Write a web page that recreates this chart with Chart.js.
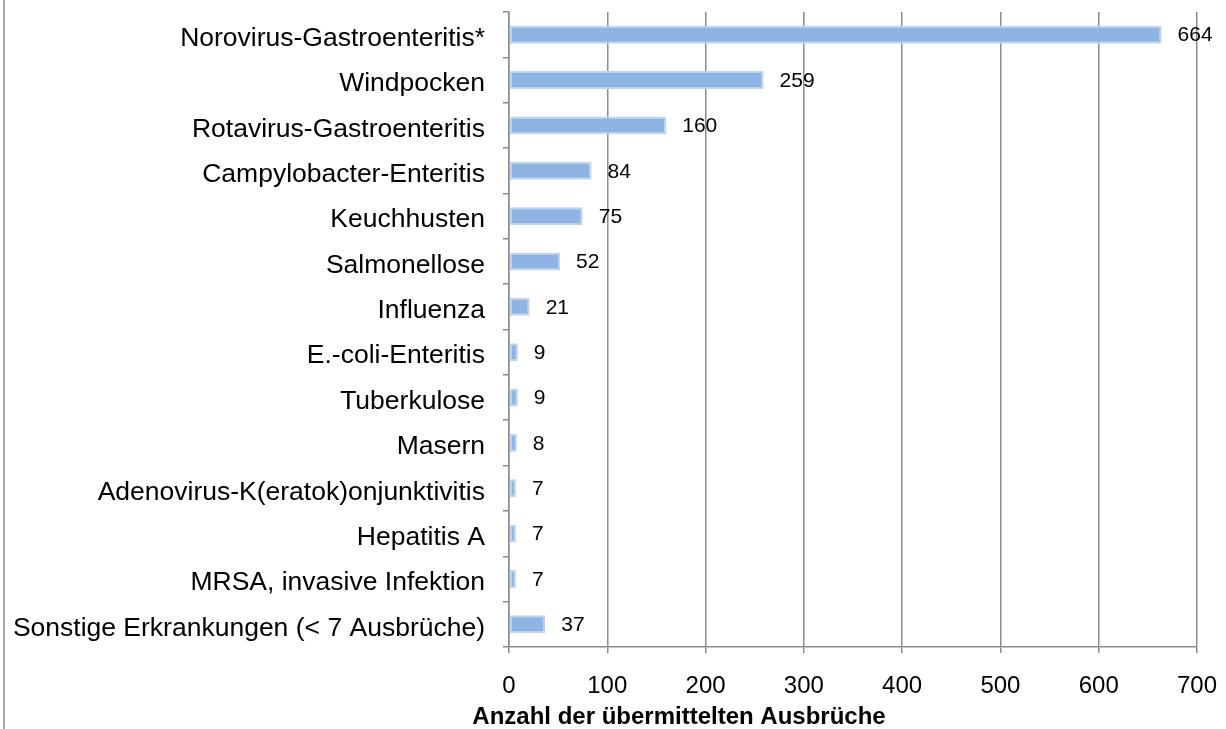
<!DOCTYPE html>
<html>
<head>
<meta charset="utf-8">
<script src="https://cdn.jsdelivr.net/npm/chart.js@4/dist/chart.umd.min.js"></script>
<style>
  html, body { margin: 0; padding: 0; background: #fff; }
</style>
</head>
<body>
<canvas id="chart" width="1226" height="729"></canvas>
<script>
// --- data ---
const categories = [
    'Norovirus-Gastroenteritis*',
    'Windpocken',
    'Rotavirus-Gastroenteritis',
    'Campylobacter-Enteritis',
    'Keuchhusten',
    'Salmonellose',
    'Influenza',
    'E.-coli-Enteritis',
    'Tuberkulose',
    'Masern',
    'Adenovirus-K(eratok)onjunktivitis',
    'Hepatitis A',
    'MRSA, invasive Infektion',
    'Sonstige Erkrankungen (< 7 Ausbrüche)'
];
const outbreaks = [664, 259, 160, 84, 75, 52, 21, 9, 9, 8, 7, 7, 7, 37];
const xTicks = [0, 100, 200, 300, 400, 500, 600, 700];
const xTitle = 'Anzahl der übermittelten Ausbrüche';

const FONT = '"Liberation Sans", Arial, sans-serif';

// value labels next to bar ends
const valueLabels = {
    id: 'valueLabels',
    afterDatasetsDraw(chart) {
        const ctx = chart.ctx;
        const meta = chart.getDatasetMeta(0);
        ctx.save();
        ctx.font = '21px ' + FONT;
        ctx.fillStyle = '#000';
        ctx.textAlign = 'left';
        ctx.textBaseline = 'middle';
        meta.data.forEach((bar, i) => {
            ctx.fillText(String(outbreaks[i]), bar.x + 16, bar.y + 1);
        });
        ctx.restore();
    }
};

// left frame line + axis title (title sits left of the plot centre in the original)
const extras = {
    id: 'extras',
    beforeDraw(chart) {
        const ctx = chart.ctx;
        ctx.save();
        ctx.strokeStyle = '#8c8c8c';
        ctx.lineWidth = 1.5;
        ctx.beginPath();
        ctx.moveTo(4, 0);
        ctx.lineTo(4, chart.height);
        ctx.stroke();
        ctx.restore();
    },
    afterDraw(chart) {
        const ctx = chart.ctx;
        ctx.save();
        ctx.font = 'bold 24px ' + FONT;
        ctx.fillStyle = '#000';
        ctx.textAlign = 'center';
        ctx.textBaseline = 'alphabetic';
        ctx.fillText(xTitle, 679, 724);
        ctx.restore();
    }
};

new Chart(document.getElementById('chart'), {
    type: 'bar',
    data: {
        labels: categories,
        datasets: [{
            data: outbreaks,
            backgroundColor: '#8eb4e3',
            borderColor: '#bfd3ec',
            borderWidth: 2,
            borderSkipped: false,
            categoryPercentage: 1,
            barPercentage: 0.395
        }]
    },
    options: {
        indexAxis: 'y',
        responsive: false,
        animation: false,
        layout: { padding: { top: 12, right: 29, left: 0, bottom: 0 } },
        plugins: {
            legend: { display: false },
            tooltip: { enabled: false }
        },
        scales: {
            x: {
                min: 0,
                max: 700,
                afterBuildTicks(scale) {
                    scale.ticks = xTicks.map(v => ({ value: v }));
                },
                afterFit(scale) {
                    scale.height = 82;
                    scale.paddingLeft = 0;
                    scale.paddingRight = 0;
                },
                grid: {
                    color: '#8c8c8c',
                    lineWidth: 1.5,
                    tickLength: 6,
                    drawTicks: true
                },
                border: { color: '#8c8c8c', width: 1.5 },
                ticks: {
                    font: { family: FONT, size: 24 },
                    color: '#000',
                    padding: 19
                }
            },
            y: {
                afterFit(scale) {
                    scale.width = 509;
                    scale.paddingTop = 0;
                    scale.paddingBottom = 0;
                },
                grid: {
                    drawOnChartArea: false,
                    color: '#8c8c8c',
                    lineWidth: 1.5,
                    tickLength: 6,
                    offset: true
                },
                border: { color: '#8c8c8c', width: 1.5 },
                ticks: {
                    font: { family: FONT, size: 26.5 },
                    color: '#000',
                    padding: 18,
                    labelOffset: 4,
                    autoSkip: false
                }
            }
        }
    },
    plugins: [valueLabels, extras]
});
</script>
</body>
</html>
